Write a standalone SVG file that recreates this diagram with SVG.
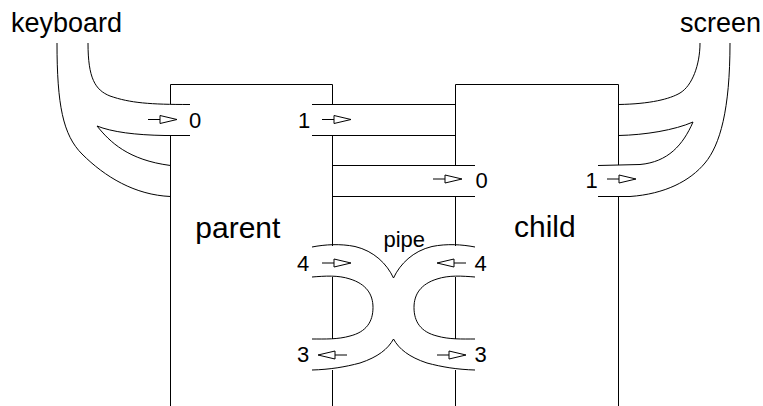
<svg xmlns="http://www.w3.org/2000/svg" xmlns:xlink="http://www.w3.org/1999/xlink" width="763" height="406" viewBox="0 0 763 406">
  <style>
    .ln { fill: none; stroke: #000; stroke-width: 1; }
    .lbl { font-family: "Liberation Sans", Arial, sans-serif; fill: #000; }
    .big { font-size: 30px; }
    .dev { font-size: 27px; }
    .fd { font-size: 22px; }
    .pp { font-size: 22px; }
  </style>
  <defs>
    <g id="arr">
      <line x1="0" y1="0" x2="12" y2="0" stroke="#000" stroke-width="1"/>
      <polygon points="12,-4 29,0 12,4" fill="#fff" stroke="#000" stroke-width="1"/>
    </g>
  </defs>
  <rect width="763" height="406" fill="#fff"/>

  <g id="connectors">
    <!-- keyboard channel -->
    <path class="ln" d="M57,43 C57,105 63,135 82,154 C105,177 135,195 170.5,196.5"/>
    <path class="ln" d="M88,43 C88,78 95,90 110,96 C130,103 150,104.5 190,104.5"/>
    <path class="ln" d="M190,135.5 H165 C135,135 112,132 97,126 C110,142 128,160 170.5,165.5"/>
    <!-- parent fd1 passing through child -->
    <path class="ln" d="M312,104.5 H455.5 M312,135.5 H455.5"/>
    <!-- keyboard passing through parent to child fd0 -->
    <path class="ln" d="M332.5,165.5 H475 M332.5,196.5 H475"/>
    <!-- screen channel -->
    <path class="ln" d="M618.5,104.5 C650,104 670,99 680,93 C692,86 700,65 700,43"/>
    <path class="ln" d="M618.5,135.5 C645,135 675,130 693,122 C683,145 668,162 640,164.5 L598,165.5"/>
    <path class="ln" d="M598,196.5 H630 C665,194 690,181 705,163 C720,145 730,110 730,43"/>
    <!-- pipe -->
    <path class="ln" d="M312,247 C325,244.5 340,243.5 355,246.5 C374,251 387,264 393.5,278 C400,264 413,251 432,246.5 C447,243.5 462,244.5 475,247"/>
    <path class="ln" d="M312,277 C325,276 338,275 350,279 C366,284 373,294 373,307.5 C373,322 366,332 350,336 C338,339.5 325,339 312,339"/>
    <path class="ln" d="M475,277 C462,276 449,275 437,279 C421,284 414,294 414,307.5 C414,322 421,332 437,336 C449,339.5 462,339 475,339"/>
    <path class="ln" d="M312,370 C330,369.5 345,367 360,363 C378,357 388,349 393.5,339 C399,349 409,357 427,363 C442,367 457,369.5 475,370"/>
    <text class="lbl pp" x="383.5" y="247">pipe</text>
  </g>

  <g id="keyboard">
    <text class="lbl dev" x="11" y="32">keyboard</text>
  </g>

  <g id="screen">
    <text class="lbl dev" x="761" y="32" text-anchor="end">screen</text>
  </g>

  <g id="parent">
    <path class="ln" d="M170.5,104 V84.5 H332.5 V104 M170.5,135 V406 M332.5,135 V246 M332.5,277 V339 M332.5,370 V406"/>
    <text class="lbl big" x="195.3" y="238">parent</text>
    <use xlink:href="#arr" href="#arr" transform="translate(148,119.5)"/>
    <text class="lbl fd" x="189" y="127.5">0</text>
    <text class="lbl fd" x="298" y="128">1</text>
    <use xlink:href="#arr" href="#arr" transform="translate(322,119.5)"/>
    <text class="lbl fd" x="297" y="271">4</text>
    <use xlink:href="#arr" href="#arr" transform="translate(322,263)"/>
    <text class="lbl fd" x="297" y="362">3</text>
    <use xlink:href="#arr" href="#arr" transform="translate(347,355) scale(-1,1)"/>
  </g>

  <g id="child">
    <path class="ln" d="M455.5,165 V84.5 H618.5 V165 M455.5,196 V246 M455.5,277 V339 M455.5,370 V406 M618.5,196 V406"/>
    <text class="lbl big" x="514" y="237">child</text>
    <use xlink:href="#arr" href="#arr" transform="translate(433,179)"/>
    <text class="lbl fd" x="475.5" y="188">0</text>
    <text class="lbl fd" x="585.5" y="188">1</text>
    <use xlink:href="#arr" href="#arr" transform="translate(607,179)"/>
    <use xlink:href="#arr" href="#arr" transform="translate(466,263) scale(-1,1)"/>
    <text class="lbl fd" x="474.5" y="271">4</text>
    <use xlink:href="#arr" href="#arr" transform="translate(437,355)"/>
    <text class="lbl fd" x="474.5" y="362">3</text>
  </g>
</svg>
